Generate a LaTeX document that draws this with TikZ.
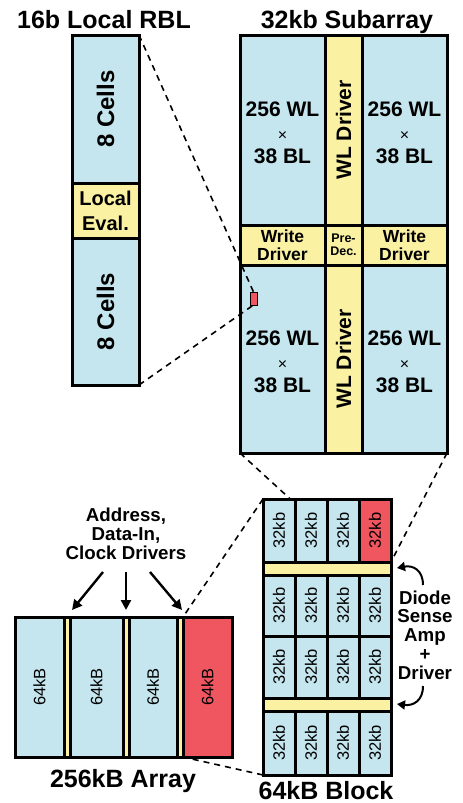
\documentclass[tikz,border=0pt]{standalone}
\usepackage{fontspec}
\setmainfont{Liberation Sans}
\usetikzlibrary{arrows.meta,backgrounds}
\definecolor{cb}{RGB}{197,230,238}
\definecolor{cy}{RGB}{250,241,163}
\definecolor{cr}{RGB}{240,86,96}
\newcommand\rbox[6]{\node[#2,anchor=north west,minimum width={(#5)-(#3)},minimum height={(#6)-(#4)}] (#1) at (#3,#4) {};}
\begin{document}
\begin{tikzpicture}[x=1pt,y=-1pt,
  bx/.style={draw=black,line width=3pt,inner sep=0pt,outer sep=0pt},
  bluebox/.style={bx,fill=cb},
  yelbox/.style={bx,fill=cy},
  redbox/.style={bx,fill=cr},
  frame/.style={bx},
  dl/.style={draw=black,line width=1.6pt,dash pattern=on 6pt off 5pt},
  arr/.style={draw=black,line width=2.4pt,-{Triangle[length=10pt,width=10pt]}},
  carr/.style={draw=black,line width=2pt,-{Triangle[length=8pt,width=9pt]}},
  title/.style={font=\fontsize{25}{27}\selectfont\bfseries,anchor=base,inner sep=0pt},
  wl/.style={font=\fontsize{21}{23.5}\selectfont\bfseries,align=center,inner sep=0pt},
  wd/.style={font=\fontsize{17.5}{17.5}\selectfont\bfseries,align=center,inner sep=0pt},
  cellsl/.style={font=\fontsize{24}{26}\selectfont\bfseries,rotate=90,inner sep=0pt},
  sm/.style={font=\fontsize{16.5}{16.5}\selectfont,rotate=90,inner sep=0pt},
  lbl/.style={font=\fontsize{18.7}{18.8}\selectfont\bfseries,align=center,inner sep=0pt}]
\useasboundingbox (0,0) rectangle (463,803);

% titles
\node[title] (t1) at (104,28) {16b Local RBL};
\node[title] (t2) at (347,28) {32kb Subarray};
\node[title] (t3) at (123,787) {256kB Array};
\node[title] (t4) at (326,799) {64kB Block};

% 16b local RBL
\rbox{rA}{bluebox}{72}{35}{139}{183}
\rbox{rE}{yelbox}{72}{183}{139}{238}
\rbox{rB}{bluebox}{72}{238}{139}{385}
\rbox{rbl}{frame}{72}{35}{139}{385}
\node[cellsl] (lA) at (rA) {8 Cells};
\node[cellsl] (lB) at (rB) {8 Cells};
\node[font=\fontsize{20}{25}\selectfont\bfseries,align=center,inner sep=0pt] (lE) at (rE) {Local\\Eval.};

% 32kb subarray
\rbox{sTL}{bluebox}{240}{35}{325}{225}
\rbox{sWA}{yelbox}{325}{35}{362}{225}
\rbox{sTR}{bluebox}{362}{35}{447}{225}
\rbox{wdL}{yelbox}{240}{225}{325}{265}
\rbox{pdc}{yelbox}{325}{225}{362}{265}
\rbox{wdR}{yelbox}{362}{225}{447}{265}
\rbox{sBL}{bluebox}{240}{265}{325}{453}
\rbox{sWB}{yelbox}{325}{265}{362}{453}
\rbox{sBR}{bluebox}{362}{265}{447}{453}
\rbox{sub}{frame}{240}{35}{447}{453}
\node[wl] (xTL) at (282.5,133) {256 WL\\{\mdseries\fontsize{16}{23.5}\selectfont ×}\\38 BL};
\node[wl] (xTR) at (404.5,133) {256 WL\\{\mdseries\fontsize{16}{23.5}\selectfont ×}\\38 BL};
\node[wl] (xBL) at (282.5,362) {256 WL\\{\mdseries\fontsize{16}{23.5}\selectfont ×}\\38 BL};
\node[wl] (xBR) at (404.5,362) {256 WL\\{\mdseries\fontsize{16}{23.5}\selectfont ×}\\38 BL};
\node[wl,rotate=90] (xWA) at (sWA) {WL Driver};
\node[wl,rotate=90] (xWB) at (sWB) {WL Driver};
\node[wd] (xwL) at (wdL) {Write\\Driver};
\node[wd] (xwR) at (wdR) {Write\\Driver};
\node[font=\fontsize{12.5}{13.5}\selectfont\bfseries,align=center,inner sep=0pt] (xpd) at (pdc) {Pre-\\Dec.};
\rbox{bit}{draw=black,line width=0.8pt,fill=cr,inner sep=0pt,outer sep=0pt}{250}{292}{257}{305}

% 64kB block
\foreach \col/\xa/\xb in {1/263/295,2/295/327,3/327/359,4/359/391}{
  \foreach \row/\ya/\yb in {1/499/562,2/575/636,3/636/698,4/711/775}{
    \def\cs{bluebox}
    \ifnum\row\col=14 \def\cs{redbox}\fi
    \rbox{c\row\col}{\cs}{\xa}{\ya}{\xb}{\yb}
    \node[sm] (k\row\col) at (c\row\col) {32kb};
  }
}
\rbox{st1}{yelbox}{263}{562}{391}{575}
\rbox{st2}{yelbox}{263}{698}{391}{711}
\rbox{blk}{frame}{263}{499}{391}{775}

% 256kB array
\rbox{a1}{bluebox}{15}{617}{64}{757}
\rbox{s1}{yelbox}{64}{617}{70}{757}
\rbox{a2}{bluebox}{70}{617}{123}{757}
\rbox{s2}{yelbox}{123}{617}{129}{757}
\rbox{a3}{bluebox}{129}{617}{177}{757}
\rbox{s3}{yelbox}{177}{617}{183}{757}
\rbox{a4}{redbox}{183}{617}{232}{757}
\rbox{arr}{frame}{15}{617}{232}{757}
\node[sm] (m1) at (a1) {64kB};
\node[sm] (m2) at (a2) {64kB};
\node[sm] (m3) at (a3) {64kB};
\node[sm] (m4) at (a4) {64kB};

% driver labels and arrows
\node[lbl] (addr) at (126,534) {Address,\\Data-In,\\Clock Drivers};
\coordinate (f1) at (103,572); \coordinate (e1) at (72,610);
\coordinate (f2) at (126,572); \coordinate (e2) at (126,610);
\coordinate (f3) at (150,572); \coordinate (e3) at (182,610);
\draw[arr] (f1) -- (e1);
\draw[arr] (f2) -- (e2);
\draw[arr] (f3) -- (e3);

\node[lbl] (diode) at (425,635) {Diode\\Sense\\Amp\\+\\Driver};
\coordinate (g1) at (423,585); \coordinate (h1) at (397,568);
\coordinate (g2) at (423,686); \coordinate (h2) at (397,704);
\draw[carr] (g1) .. controls (423,570) and (413,565) .. (h1);
\draw[carr] (g2) .. controls (423,701) and (413,706) .. (h2);

% dashed zoom lines
\draw[dl] (rbl.north east) -- (bit.north);
\draw[dl] (rbl.south east) -- (bit.south);
\draw[dl] (blk.north west) -- (a4.north west);
\draw[dl] (blk.south west) -- (a4.south west);
\begin{pgfonlayer}{background}
\draw[dl] (sub.south west) -- (c14.south west);
\draw[dl] (sub.south east) -- (c14.south east);
\end{pgfonlayer}
\end{tikzpicture}
\end{document}
